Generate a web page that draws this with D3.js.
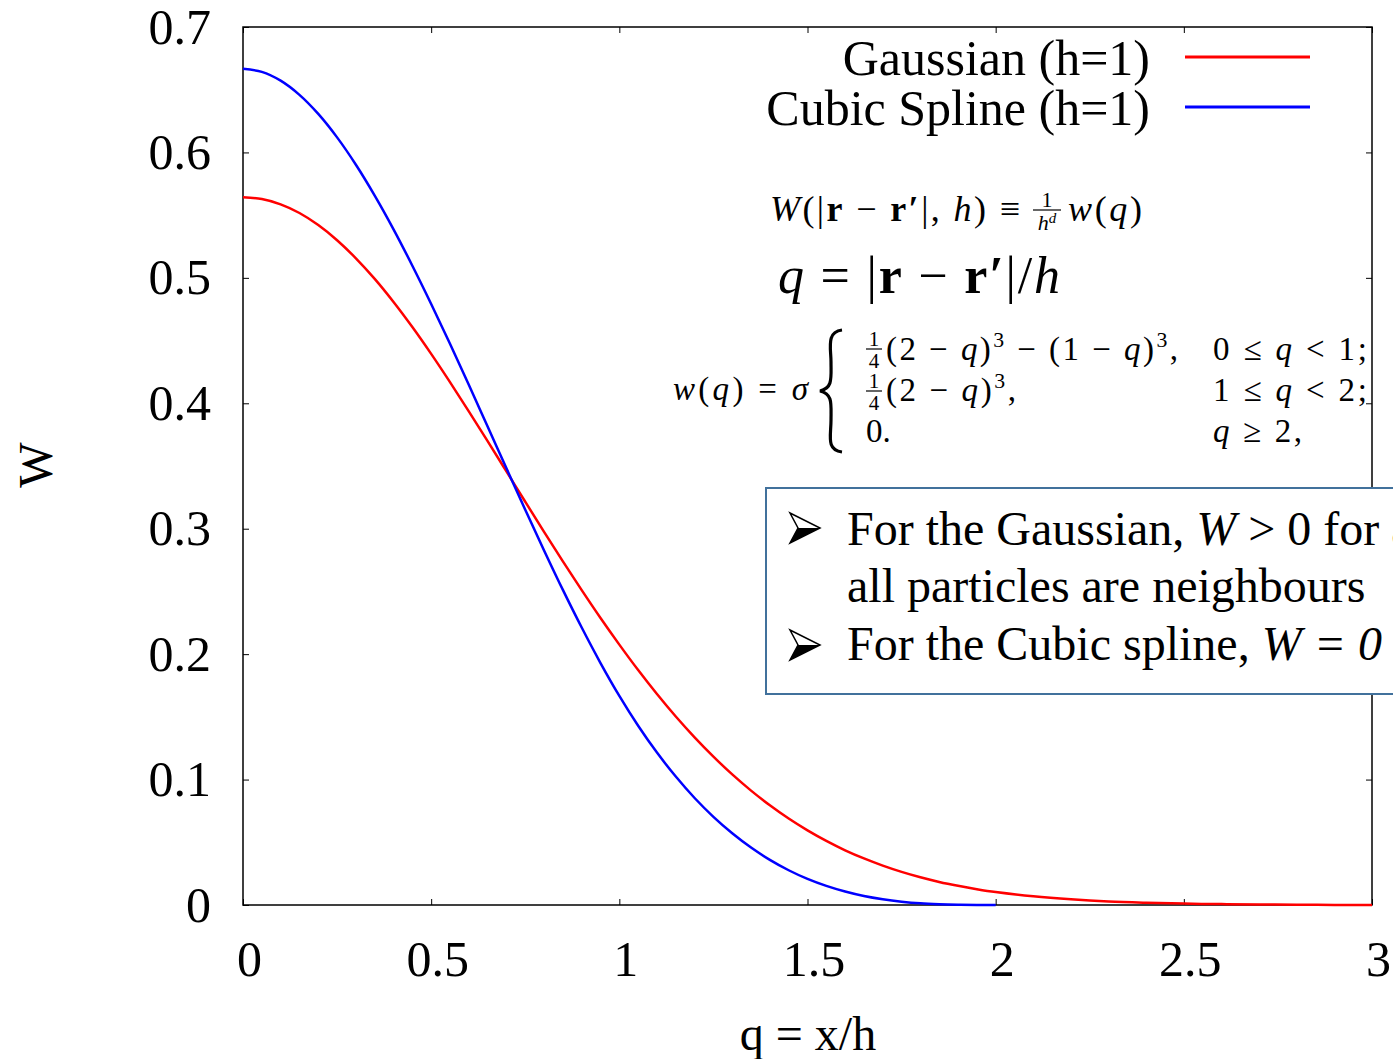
<!DOCTYPE html>
<html>
<head>
<meta charset="utf-8">
<script src="https://cdn.jsdelivr.net/npm/d3@7"></script>
<style>
  body { margin: 0; background: #fff; }
  text { font-family: "Liberation Serif", "Times New Roman", serif; }
</style>
</head>
<body>
<svg id="chart" width="1393" height="1059"></svg>
<script>
// values
const qValues = [0, 0.05, 0.1, 0.15, 0.2, 0.25, 0.3, 0.35, 0.4, 0.45, 0.5,
  0.55, 0.6, 0.65, 0.7, 0.75, 0.8, 0.85, 0.9, 0.95, 1.0,
  1.05, 1.1, 1.15, 1.2, 1.25, 1.3, 1.35, 1.4, 1.45, 1.5,
  1.55, 1.6, 1.65, 1.7, 1.75, 1.8, 1.85, 1.9, 1.95, 2.0,
  2.1, 2.2, 2.3, 2.4, 2.5, 2.6, 2.7, 2.8, 2.9, 3.0];
const gaussianW = [0.5642, 0.5628, 0.5586, 0.5517, 0.5421, 0.5300, 0.5156, 0.4992, 0.4808, 0.4608, 0.4394,
  0.4169, 0.3936, 0.3698, 0.3457, 0.3215, 0.2975, 0.2739, 0.2510, 0.2288, 0.2076,
  0.1873, 0.1682, 0.1503, 0.1337, 0.1183, 0.1041, 0.0912, 0.0795, 0.0689, 0.0595,
  0.0511, 0.0436, 0.0371, 0.0314, 0.0264, 0.0221, 0.0184, 0.0153, 0.0126, 0.0103,
  0.0069, 0.0045, 0.0028, 0.0018, 0.0011, 0.0007, 0.0004, 0.0002, 0.0001, 0.0001];
const splineW = [0.6667, 0.6642, 0.6572, 0.6459, 0.6307, 0.6120, 0.5902, 0.5656, 0.5387, 0.5097, 0.4792,
  0.4474, 0.4147, 0.3815, 0.3482, 0.3151, 0.2827, 0.2512, 0.2212, 0.1929, 0.1667,
  0.1429, 0.1215, 0.1024, 0.0853, 0.0703, 0.0572, 0.0458, 0.0360, 0.0277, 0.0208,
  0.0152, 0.0107, 0.0071, 0.0045, 0.0026, 0.0013, 0.0006, 0.0002, 0.0000, 0.0];
const xTicks = [0, 0.5, 1, 1.5, 2, 2.5, 3];
const yTicks = [0, 0.1, 0.2, 0.3, 0.4, 0.5, 0.6, 0.7];
const seriesNames = ["Gaussian (h=1)", "Cubic Spline (h=1)"];
const seriesColors = ["#ff0000", "#0000ff"];

const svg = d3.select("#chart");
const plotLeft = 243, plotRight = 1372, plotTop = 27, plotBottom = 905;

const x = d3.scaleLinear().domain([0, 3]).range([plotLeft, plotRight]);
const y = d3.scaleLinear().domain([0, 0.7]).range([plotBottom, plotTop]);

// axes with inward ticks
const xAxis = svg.append("g")
  .attr("transform", "translate(0," + plotBottom + ")")
  .call(d3.axisBottom(x).tickValues(xTicks).tickFormat(d3.format("")).tickSizeInner(-6).tickSizeOuter(0).tickPadding(35));
xAxis.selectAll("text").attr("dx", 6);

svg.append("g")
  .attr("transform", "translate(" + plotLeft + ",0)")
  .call(d3.axisLeft(y).tickValues(yTicks).tickFormat(d3.format("")).tickSizeInner(-6).tickSizeOuter(0).tickPadding(32));

svg.append("g")
  .attr("transform", "translate(0," + plotTop + ")")
  .call(d3.axisTop(x).tickValues(xTicks).tickFormat("").tickSizeInner(-6).tickSizeOuter(0));
svg.append("g")
  .attr("transform", "translate(" + plotRight + ",0)")
  .call(d3.axisRight(y).tickValues(yTicks).tickFormat("").tickSizeInner(-6).tickSizeOuter(0));

svg.selectAll(".domain").remove();
svg.selectAll(".tick line").attr("stroke", "#000").attr("stroke-width", 1);
svg.selectAll(".tick text")
  .style("font-family", '"Liberation Serif", serif')
  .style("font-size", "50px")
  .attr("fill", "#000");

// frame
svg.append("rect")
  .attr("x", plotLeft).attr("y", plotTop)
  .attr("width", plotRight - plotLeft).attr("height", plotBottom - plotTop)
  .attr("fill", "none").attr("stroke", "#000").attr("stroke-width", 1.5);

// curves
const line = d3.line()
  .x(d => x(d[0]))
  .y(d => y(d[1]))
  .curve(d3.curveCatmullRom);

const gaussData = qValues.map((q, i) => [q, gaussianW[i]]);
const splineData = splineW.map((w, i) => [qValues[i], w]);

svg.append("path").datum(gaussData)
  .attr("d", line).attr("fill", "none")
  .attr("stroke", seriesColors[0]).attr("stroke-width", 2.5);
svg.append("path").datum(splineData)
  .attr("d", line).attr("fill", "none")
  .attr("stroke", seriesColors[1]).attr("stroke-width", 2.5);

// axis titles
svg.append("text")
  .attr("x", 808).attr("y", 1050)
  .attr("text-anchor", "middle")
  .style("font-size", "48px")
  .text("q = x/h");
svg.append("text")
  .attr("transform", "translate(52,465) rotate(-90)")
  .attr("text-anchor", "middle")
  .style("font-size", "48px")
  .text("W");

// legend
seriesNames.forEach((name, i) => {
  const ly = 57 + i * 50;
  svg.append("text")
    .attr("x", 1150).attr("y", ly + 18)
    .attr("text-anchor", "end")
    .style("font-size", "50px")
    .text(name);
  svg.append("line")
    .attr("x1", 1185).attr("x2", 1310)
    .attr("y1", ly).attr("y2", ly)
    .attr("stroke", seriesColors[i]).attr("stroke-width", 3);
});

// formula helper: parts are [text, kind] with kind i = italic, b = bold, sup = superscript
function mathText(x0, base, size, width, parts) {
  const t = svg.append("text").attr("x", x0).attr("y", base).style("font-size", size + "px");
  if (width) t.attr("textLength", width).attr("lengthAdjust", "spacing");
  let raised = false;
  parts.forEach(p => {
    const s = t.append("tspan").text(p[0]);
    const kind = p[1] || "";
    if (kind === "i") s.attr("font-style", "italic");
    if (kind === "b") s.attr("font-weight", "bold");
    if (kind === "sup") {
      s.attr("dy", -size * 0.4).style("font-size", (size * 0.66) + "px");
      raised = true;
    } else if (raised) {
      s.attr("dy", size * 0.4);
      raised = false;
    }
  });
  return t;
}

function fraction(cx, barY, num, size, barW) {
  svg.append("text").attr("x", cx).attr("y", barY - 3).attr("text-anchor", "middle")
    .style("font-size", size + "px").text(num);
  svg.append("line").attr("x1", cx - barW / 2).attr("x2", cx + barW / 2)
    .attr("y1", barY).attr("y2", barY).attr("stroke", "#000").attr("stroke-width", 1.2);
  return svg.append("text").attr("x", cx).attr("y", barY + size * 0.9).attr("text-anchor", "middle")
    .style("font-size", size + "px");
}

// W(|r-r'|,h) = 1/h^d w(q)
mathText(770, 221, 36, 250, [["W", "i"], ["(|"], ["r", "b"], [" − "], ["r′", "b"], ["|, "], ["h", "i"], [") ≡"]]);
const hd = fraction(1047, 210, "1", 22, 28);
hd.append("tspan").attr("font-style", "italic").text("h");
hd.append("tspan").attr("font-style", "italic").attr("dy", -7).style("font-size", "15px").text("d");
mathText(1068, 221, 36, 74, [["w", "i"], ["("], ["q", "i"], [")"]]);

// q = |r-r'|/h
mathText(778, 293, 52, 282, [["q", "i"], [" = |"], ["r", "b"], [" − "], ["r′", "b"], ["|/"], ["h", "i"]]);

// piecewise cubic spline
mathText(673, 400, 33, 135, [["w", "i"], ["("], ["q", "i"], [") = "], ["σ", "i"]]);
svg.append("path")
  .attr("d", "M842,330 C826,332 831,348 831,362 C831,378 833,388 820,391 C833,394 831,404 831,420 C831,436 826,450 842,452")
  .attr("fill", "none").attr("stroke", "#000").attr("stroke-width", 3.2);

fraction(874, 349, "1", 21, 16).text("4");
mathText(886, 360, 33, 292, [["(2 − "], ["q", "i"], [")"], ["3", "sup"], [" − (1 − "], ["q", "i"], [")"], ["3", "sup"], [","]]);
fraction(874, 391, "1", 21, 16).text("4");
mathText(886, 401, 33, 130, [["(2 − "], ["q", "i"], [")"], ["3", "sup"], [","]]);
mathText(866, 442, 33, null, [["0."]]);

mathText(1213, 360, 33, 154, [["0 ≤ "], ["q", "i"], [" < 1;"]]);
mathText(1213, 401, 33, 154, [["1 ≤ "], ["q", "i"], [" < 2;"]]);
mathText(1213, 442, 33, 89, [["q", "i"], [" ≥ 2,"]]);

// note box
svg.append("rect")
  .attr("x", 766).attr("y", 488).attr("width", 700).attr("height", 206)
  .attr("fill", "#fff").attr("stroke", "#41719c").attr("stroke-width", 2);

function bullet(cx, cy) {
  svg.append("path")
    .attr("d", `M${cx - 14},${cy - 15} L${cx + 16},${cy} L${cx - 14},${cy + 15} L${cx - 6},${cy} Z`)
    .attr("fill", "#fff").attr("stroke", "#000").attr("stroke-width", 1.5);
  svg.append("path")
    .attr("d", `M${cx - 6},${cy} L${cx + 16},${cy} L${cx - 14},${cy + 15} Z`)
    .attr("fill", "#000");
}
bullet(804, 528);
bullet(804, 645);

const b1 = svg.append("text").attr("x", 847).attr("y", 545).style("font-size", "48px");
b1.append("tspan").text("For the Gaussian, ");
b1.append("tspan").attr("font-style", "italic").text("W");
b1.append("tspan").text(" > 0 for all");
svg.append("text").attr("x", 847).attr("y", 602).style("font-size", "48px").text("all particles are neighbours");
const b3 = svg.append("text").attr("x", 847).attr("y", 660).style("font-size", "48px");
b3.append("tspan").text("For the Cubic spline, ");
b3.append("tspan").attr("font-style", "italic").text("W = 0");
</script>
</body>
</html>
